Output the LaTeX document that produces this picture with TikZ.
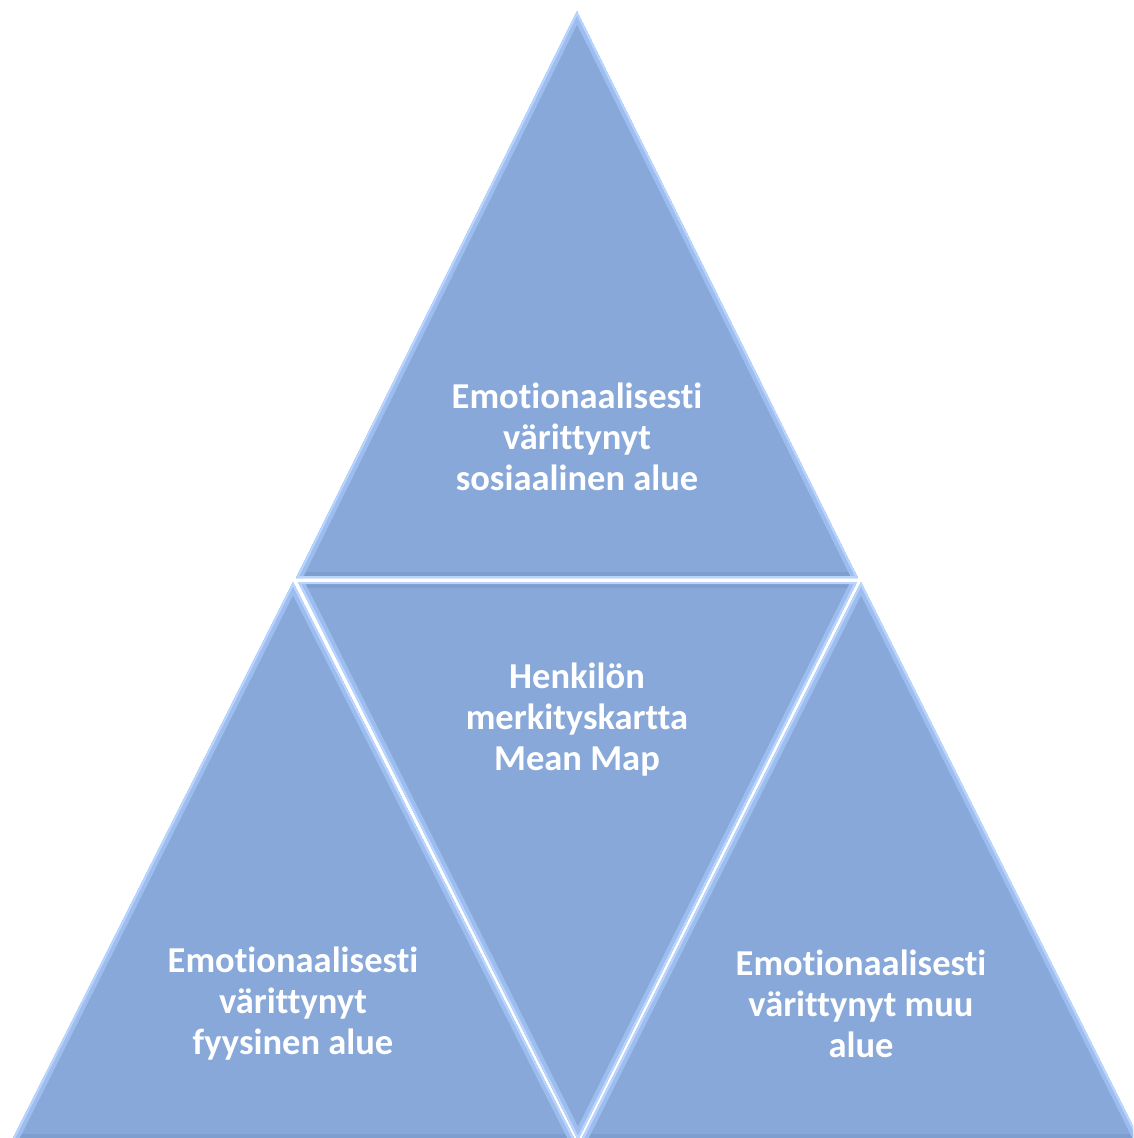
\documentclass[tikz,border=0pt]{standalone}
\usepackage{fontspec}
\setmainfont{Carlito}[Ligatures=NoCommon]
\definecolor{triblue}{HTML}{87A8D8}
\definecolor{trilight}{HTML}{9CBDEE}
\definecolor{trihigh}{HTML}{B9D5FF}
\definecolor{tridark}{HTML}{7E9ECF}
\tikzset{
  lbl/.style={text=white,align=center,font=\bfseries\fontsize{36.5}{41}\selectfont}
}

\begin{document}
\begin{tikzpicture}[x=1pt,y=-1pt]
  % frame
  \clip (0,0) rectangle (1133,1138);
  % corners of the triangles
  \coordinate (ta) at (577,11);
  \coordinate (tl) at (296,578);
  \coordinate (tr) at (858,578);
  \coordinate (ml) at (298,582);
  \coordinate (mr) at (857,582);
  \coordinate (mb) at (578,1140);
  \coordinate (la) at (293,582);
  \coordinate (ll) at (12,1140);
  \coordinate (lr) at (575,1140);
  \coordinate (ra) at (861,582);
  \coordinate (rl) at (581,1140);
  \coordinate (rr) at (1140,1140);
  % bevelled triangles
  \foreach \A/\B/\C in {ta/tl/tr,mb/ml/mr,la/ll/lr,ra/rl/rr} {
    \begin{scope}
      \clip (\A) -- (\B) -- (\C) -- cycle;
      \fill[triblue] (\A) -- (\B) -- (\C) -- cycle;
      \draw[tridark,line width=12pt] (\B) -- (\C);
      \draw[trilight,line width=12pt] (\C) -- (\A) -- (\B);
      \draw[trihigh,line width=4pt] (\A) -- (\B) -- (\C) -- cycle;
    \end{scope}
  }
  % texts
  \node[lbl] (social) at (577,437) {Emotionaalisesti\\värittynyt\\sosiaalinen alue};
  \node[lbl] (mean) at (577,720) {Henkilön\\merkityskartta\\Mean Map};
  \node[lbl] (physical) at (293,1004) {Emotionaalisesti\\värittynyt\\fyysinen alue};
  \node[lbl] (other) at (861,1004) {Emotionaalisesti\\värittynyt muu\\alue};
\end{tikzpicture}
\end{document}
